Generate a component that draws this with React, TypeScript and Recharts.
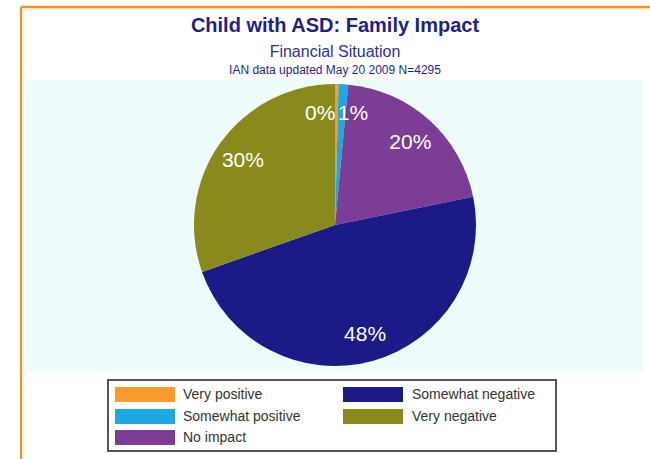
import React from 'react';
import { PieChart, Pie, Cell, Legend } from 'recharts';

const categories = ['Very positive', 'Somewhat positive', 'No impact', 'Somewhat negative', 'Very negative'];
const values = [0.4, 1.1, 20.3, 47.8, 30.4];
const colors = ['#f89a2c', '#1ea8e0', '#7c3d97', '#1b1a86', '#8a8a1c'];
const titleLines = ['Child with ASD: Family Impact', 'Financial Situation', 'IAN data updated May 20 2009 N=4295'];

const data = categories.map((name, i) => ({ name, value: values[i] }));
const RAD = Math.PI / 180;
const FONT = '"Liberation Sans", Arial, sans-serif';

const renderLabel = (props: any) => {
  const { cx, cy, midAngle, outerRadius, percent, index } = props;
  const r = outerRadius * 0.8;
  const x = cx + r * Math.cos(-midAngle * RAD);
  const y = cy + r * Math.sin(-midAngle * RAD);
  // the two tiny slices at the top sit side by side: split their labels around the slice edge
  const anchor = index === 0 ? 'end' : index === 1 ? 'start' : 'middle';
  const lx = index === 0 ? x - 1 : index === 1 ? x - 4 : x;
  return (
    <text x={lx} y={y} fill="#ffffff" textAnchor={anchor} dominantBaseline="central" fontSize={21} fontFamily={FONT}>
      {`${Math.round(percent * 100)}%`}
    </text>
  );
};

const LegendContent = () => (
  <div
    style={{
      boxSizing: 'border-box',
      width: 450,
      height: 73,
      border: '2px solid #555',
      background: '#ffffff',
      position: 'relative',
      fontFamily: FONT,
      fontSize: 14,
      color: '#333',
    }}
  >
    {categories.map((c, i) => {
      const col = i < 3 ? 0 : 1;
      const row = i < 3 ? i : i - 3;
      return (
        <div
          key={c}
          style={{
            position: 'absolute',
            left: col === 0 ? 6 : 234,
            top: 6 + row * 21.5,
            display: 'flex',
            alignItems: 'center',
            height: 15,
            whiteSpace: 'nowrap',
          }}
        >
          <span style={{ width: 60, height: 15, background: colors[i], display: 'inline-block' }} />
          <span style={{ marginLeft: 8 + col, lineHeight: '15px' }}>{c}</span>
        </div>
      );
    })}
  </div>
);

export default function App() {
  return (
    <div style={{ position: 'absolute', left: 0, top: 0, width: 650, height: 459, background: '#fff' }}>
      <svg width={650} height={459} style={{ position: 'absolute', left: 0, top: 0 }}>
        <rect x={0} y={0} width={650} height={459} fill="#ffffff" />
        <rect x={27} y={80} width={616} height={292} fill="#effcfc" />
        <line x1={21} y1={7} x2={650} y2={7} stroke="#f5911e" strokeWidth={2.5} />
        <line x1={21} y1={7} x2={21} y2={459} stroke="#f5911e" strokeWidth={2} />
        <line x1={23} y1={9} x2={650} y2={9} stroke="#fcd9b0" strokeWidth={1} />
        <line x1={23} y1={9} x2={23} y2={459} stroke="#fde3c4" strokeWidth={1} />
        <text x={335} y={32} textAnchor="middle" fontSize={20} fontWeight="bold" fill="#1f1f8a" fontFamily={FONT}>
          {titleLines[0]}
        </text>
        <text x={335} y={57} textAnchor="middle" fontSize={16} fill="#2f2f9c" fontFamily={FONT}>
          {titleLines[1]}
        </text>
        <text x={335} y={74} textAnchor="middle" fontSize={12} fill="#1f1f8a" fontFamily={FONT}>
          {titleLines[2]}
        </text>
      </svg>
      <div style={{ position: 'absolute', left: 0, top: 0 }}>
        <PieChart width={650} height={459} margin={{ top: 0, right: 0, bottom: 0, left: 0 }}>
          <Pie
            data={data}
            dataKey="value"
            nameKey="name"
            cx={335}
            cy={225}
            outerRadius={141}
            startAngle={90}
            endAngle={-270}
            stroke="none"
            label={renderLabel}
            labelLine={false}
            isAnimationActive={false}
          >
            {data.map((d, i) => (
              <Cell key={d.name} fill={colors[i]} />
            ))}
          </Pie>
          <Legend
            content={<LegendContent />}
            wrapperStyle={{ left: 107, top: 379, width: 450, height: 73, bottom: 'auto' }}
          />
        </PieChart>
      </div>
    </div>
  );
}
